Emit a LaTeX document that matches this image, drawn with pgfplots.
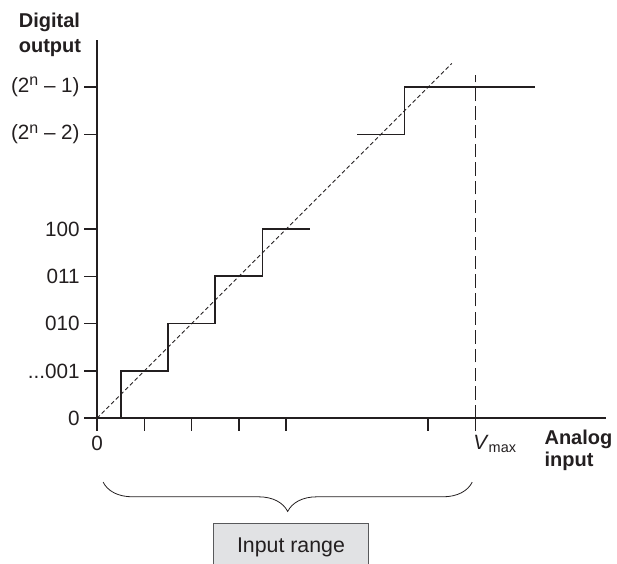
\documentclass[border=0pt]{standalone}
\usepackage{fontspec}
\setmainfont{Liberation Sans}
\usepackage{pgfplots}
\pgfplotsset{compat=1.18}
\usetikzlibrary{decorations.pathreplacing}
\definecolor{ink}{HTML}{231F20}
\definecolor{boxfill}{HTML}{E1E2E4}
\definecolor{boxedge}{HTML}{58595B}
\newcommand{\dotsthree}{.\relax.\relax.}
\newcommand{\supn}{\raisebox{0.62ex}{\fontsize{12}{12}\selectfont n}}
\begin{document}
\begin{tikzpicture}
\begin{axis}[
  x=35.5pt, y=35.5pt,
  xmin=0, xmax=10.75, ymin=0, ymax=8,
  axis lines=left,
  axis line style={-, line width=1.3pt, ink},
  clip=false,
  tick align=outside,
  major tick length=9.5pt,
  tick style={line width=1.2pt, ink},
  xtick={0,1,2,3,4,7,8},
  xticklabels={0,{},{},{},{},{},{\hphantom{max}\textit{V}\textsubscript{max}}},
  ytick={0,1,2,3,4,6,7},
  yticklabels={0,{\dotsthree001},010,011,100,{(2\supn\ – 2)},{(2\supn\ – 1)}},
  ticklabel style={font=\fontsize{15.5}{18}\selectfont, text=ink},
]
\addplot[ink, line width=1.3pt] coordinates {(0.5,0) (0.5,1) (1.5,1) (1.5,2) (2.5,2) (2.5,3) (3.5,3) (3.5,4) (4.5,4)};
\addplot[ink, line width=1.3pt] coordinates {(5.5,6) (6.5,6) (6.5,7) (9.26,7)};
\addplot[ink, line width=0.75pt, dash pattern=on 3pt off 2pt] coordinates {(0,0) (7.5,7.5)};
\addplot[ink, line width=1pt, dash pattern=on 10pt off 4pt] coordinates {(8,0) (8,7.25)};
\node[anchor=base west, font=\bfseries\fontsize{15}{18}\selectfont, text=ink] at (axis cs:-1.75,8.25) {Digital};
\node[anchor=base west, font=\bfseries\fontsize{15}{18}\selectfont, text=ink] at (axis cs:-1.75,7.72) {output};
\node[anchor=base west, font=\bfseries\fontsize{15}{18}\selectfont, text=ink] at (axis cs:9.36,-0.55) {Analog};
\node[anchor=base west, font=\bfseries\fontsize{15}{18}\selectfont, text=ink] at (axis cs:9.36,-1.01) {input};
\draw[ink, line width=0.6pt, decorate, decoration={brace, mirror, amplitude=22pt}] (axis cs:0.13,-1.35) -- (axis cs:7.93,-1.35);
\draw[boxedge, fill=boxfill, line width=0.7pt] (axis cs:2.46,-2.215) rectangle (axis cs:5.74,-3.3);
\node[anchor=base, font=\fontsize{16}{19}\selectfont, text=ink] at (axis cs:4.1,-2.83) {Input range};
\coordinate (bbSW) at (axis cs:-2.05,-3.08);
\coordinate (bbNE) at (axis cs:10.99,8.84);
\end{axis}
\pgfresetboundingbox
\useasboundingbox (bbSW) rectangle (bbNE);
\end{tikzpicture}
\end{document}
